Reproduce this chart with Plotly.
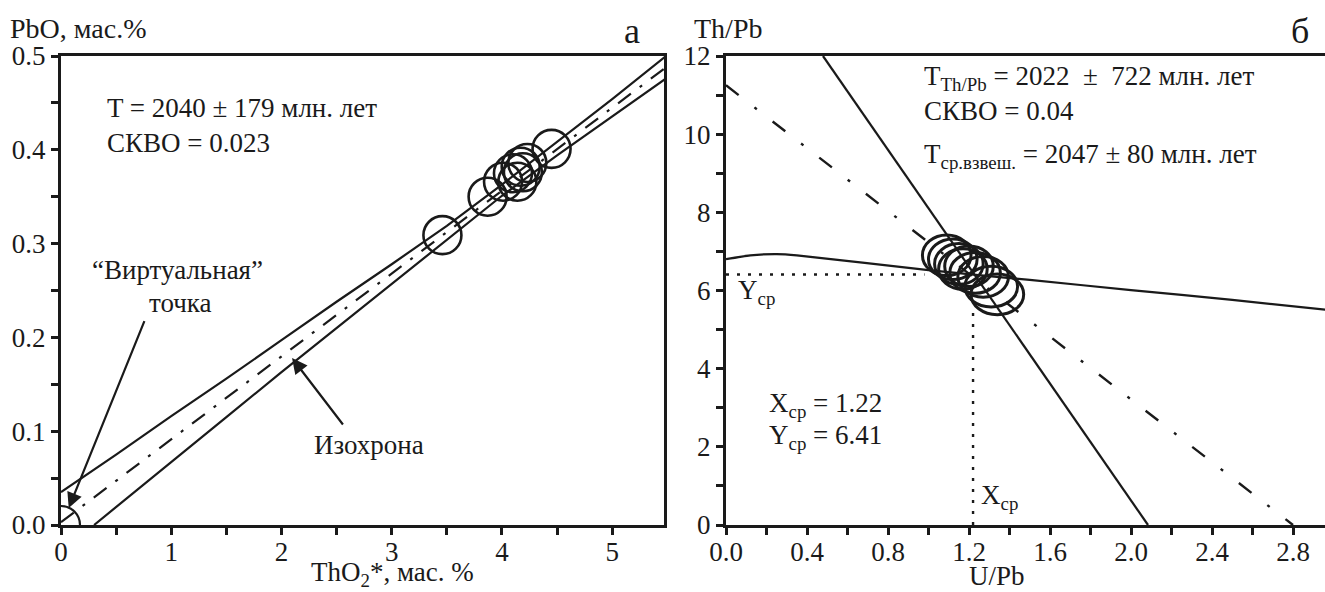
import plotly.graph_objects as go

FONT = "Liberation Serif, Times New Roman, DejaVu Serif, serif"
INK = "#1a1a1a"

# ---------------- panel a : PbO vs ThO2* ----------------
a_pt_x = [3.46, 3.87, 4.01, 4.10, 4.14, 4.17, 4.19, 4.23, 4.45]
a_pt_y = [0.309, 0.350, 0.366, 0.375, 0.366, 0.382, 0.376, 0.386, 0.401]

a_virtual_x = [0.0]
a_virtual_y = [0.0]

a_center_x = [0.0, 5.5]
a_center_y = [0.003, 0.489]

a_upper_x = [0.0, 0.5, 1.0, 1.5, 2.0, 2.5, 3.0, 3.5, 4.0, 4.5, 5.0, 5.5]
a_upper_y = [0.035, 0.075, 0.116, 0.156, 0.197, 0.238, 0.278, 0.319, 0.363, 0.408, 0.454, 0.501]

a_lower_x = [0.30, 0.5, 1.0, 1.5, 2.0, 2.5, 3.0, 3.5, 4.0, 4.5, 5.0, 5.5]
a_lower_y = [0.0, 0.019, 0.067, 0.115, 0.163, 0.210, 0.258, 0.305, 0.351, 0.394, 0.436, 0.477]

# ---------------- panel б : Th/Pb vs U/Pb ----------------
b_ell_x = [1.09, 1.12, 1.15, 1.17, 1.20, 1.23, 1.27, 1.31, 1.34]
b_ell_y = [6.90, 6.80, 6.68, 6.55, 6.62, 6.45, 6.35, 6.10, 5.90]
b_ell_rx = [0.12, 0.12, 0.12, 0.12, 0.12, 0.125, 0.125, 0.13, 0.13]
b_ell_ry = [0.52, 0.52, 0.52, 0.52, 0.52, 0.52, 0.52, 0.52, 0.52]

b_steep_x = [0.479, 2.084]
b_steep_y = [12.0, 0.0]

b_flat_x = [0.0, 0.12, 0.25, 0.35, 1.0, 1.5, 2.0, 2.5, 2.96]
b_flat_y = [6.80, 6.90, 6.93, 6.90, 6.52, 6.27, 6.01, 5.76, 5.51]

b_dd_x = [0.0, 2.80]
b_dd_y = [11.25, 0.0]

b_xcp = 1.22
b_ycp = 6.41
b_hdot_x = [0.0, 0.98]
b_vdot_y = [0.0, 5.45]

fig = go.Figure()

line_solid = dict(color=INK, width=2.2)

# panel a traces
fig.add_trace(go.Scatter(x=a_upper_x, y=a_upper_y, mode="lines", line=line_solid,
                         xaxis="x", yaxis="y", showlegend=False, hoverinfo="skip"))
fig.add_trace(go.Scatter(x=a_lower_x, y=a_lower_y, mode="lines", line=line_solid,
                         xaxis="x", yaxis="y", showlegend=False, hoverinfo="skip"))
fig.add_trace(go.Scatter(x=a_center_x, y=a_center_y, mode="lines",
                         line=dict(color=INK, width=2.2, dash="16px,11px,3px,11px"),
                         xaxis="x", yaxis="y", showlegend=False, hoverinfo="skip"))
fig.add_trace(go.Scatter(x=a_pt_x, y=a_pt_y, mode="markers",
                         marker=dict(symbol="circle-open", size=38, color=INK,
                                     line=dict(width=2.6, color=INK)),
                         xaxis="x", yaxis="y", showlegend=False, hoverinfo="skip"))
fig.add_trace(go.Scatter(x=a_virtual_x, y=a_virtual_y, mode="markers", cliponaxis=True,
                         marker=dict(symbol="circle-open", size=38, color=INK,
                                     line=dict(width=2.2, color=INK)),
                         xaxis="x", yaxis="y", showlegend=False, hoverinfo="skip"))

# panel б traces
fig.add_trace(go.Scatter(x=b_steep_x, y=b_steep_y, mode="lines", line=line_solid,
                         xaxis="x2", yaxis="y2", showlegend=False, hoverinfo="skip"))
fig.add_trace(go.Scatter(x=b_flat_x, y=b_flat_y, mode="lines",
                         line=dict(color=INK, width=2.2, shape="spline", smoothing=0.6),
                         xaxis="x2", yaxis="y2", showlegend=False, hoverinfo="skip"))
fig.add_trace(go.Scatter(x=b_dd_x, y=b_dd_y, mode="lines",
                         line=dict(color=INK, width=2.4, dash="16px,20px,3px,20px"),
                         xaxis="x2", yaxis="y2", showlegend=False, hoverinfo="skip"))
fig.add_trace(go.Scatter(x=b_hdot_x, y=[b_ycp, b_ycp], mode="lines",
                         line=dict(color=INK, width=2.4, dash="3px,8px"),
                         xaxis="x2", yaxis="y2", showlegend=False, hoverinfo="skip"))
fig.add_trace(go.Scatter(x=[b_xcp, b_xcp], y=b_vdot_y, mode="lines",
                         line=dict(color=INK, width=2.4, dash="3px,8px"),
                         xaxis="x2", yaxis="y2", showlegend=False, hoverinfo="skip"))

shapes = []
for cx, cy, rx, ry in zip(b_ell_x, b_ell_y, b_ell_rx, b_ell_ry):
    shapes.append(dict(type="circle", xref="x2", yref="y2",
                       x0=cx - rx, x1=cx + rx, y0=cy - ry, y1=cy + ry,
                       line=dict(color=INK, width=3)))

tick_font = dict(family=FONT, size=27, color=INK)
txt = dict(family=FONT, size=27, color=INK)
big = dict(family=FONT, size=27, color=INK)

axis_common = dict(showline=True, linecolor=INK, linewidth=3, mirror=True,
                   ticks="outside", ticklen=7, tickwidth=2.5, tickcolor=INK,
                   showgrid=False, zeroline=False, tickfont=tick_font, automargin=False)

annotations = [
    # panel a texts
    dict(x=0.006, y=0.952, xref="paper", yref="paper", text="PbO, мас.%", showarrow=False,
         xanchor="left", yanchor="middle", font=dict(family=FONT, size=28, color=INK)),
    dict(x=0.477, y=0.948, xref="paper", yref="paper", text="а", showarrow=False,
         xanchor="center", yanchor="middle", font=dict(family=FONT, size=36, color=INK)),
    dict(x=0.40, y=0.445, xref="x", yref="y", text="T = 2040 ± 179 млн. лет", showarrow=False,
         xanchor="left", yanchor="middle", font=txt),
    dict(x=0.40, y=0.407, xref="x", yref="y", text="СКВО = 0.023", showarrow=False,
         xanchor="left", yanchor="middle", font=txt),
    dict(x=1.06, y=0.272, xref="x", yref="y", text="“Виртуальная”", showarrow=False,
         xanchor="center", yanchor="middle", font=txt),
    dict(x=1.08, y=0.237, xref="x", yref="y", text="точка", showarrow=False,
         xanchor="center", yanchor="middle", font=txt),
    dict(x=2.79, y=0.085, xref="x", yref="y", text="Изохрона", showarrow=False,
         xanchor="center", yanchor="middle", font=txt),
    dict(x=0.07, y=0.018, xref="x", yref="y", ax=0.762, ay=0.219, axref="x", ayref="y",
         text="", showarrow=True, arrowhead=2, arrowsize=1.4, arrowwidth=2.2, arrowcolor=INK),
    dict(x=2.096, y=0.178, xref="x", yref="y", ax=2.568, ay=0.1055, axref="x", ayref="y",
         text="", showarrow=True, arrowhead=2, arrowsize=1.4, arrowwidth=2.2, arrowcolor=INK),
    dict(x=392 / 1325, y=0.0, xref="paper", yref="paper", text="ThO<sub>2</sub>*, мас. %",
         showarrow=False, xanchor="center", yanchor="bottom", borderpad=0, font=big),
    # panel б texts
    dict(x=692 / 1325, y=0.952, xref="paper", yref="paper", text="Th/Pb", showarrow=False,
         xanchor="left", yanchor="middle", font=dict(family=FONT, size=28, color=INK)),
    dict(x=1300 / 1325, y=0.948, xref="paper", yref="paper", text="б", showarrow=False,
         xanchor="center", yanchor="middle", font=dict(family=FONT, size=36, color=INK)),
    dict(x=997 / 1325, y=0.0, xref="paper", yref="paper", text="U/Pb",
         showarrow=False, xanchor="center", yanchor="bottom", borderpad=0, font=big),
    dict(x=0.97, y=11.44, xref="x2", yref="y2", text="T<sub>Th/Pb</sub> = 2022  ±  722 млн. лет",
         showarrow=False, xanchor="left", yanchor="middle", font=txt),
    dict(x=0.97, y=10.60, xref="x2", yref="y2", text="СКВО = 0.04",
         showarrow=False, xanchor="left", yanchor="middle", font=txt),
    dict(x=0.97, y=9.45, xref="x2", yref="y2", text="T<sub>ср.взвеш.</sub> = 2047 ± 80 млн. лет",
         showarrow=False, xanchor="left", yanchor="middle", font=txt),
    dict(x=0.20, y=3.06, xref="x2", yref="y2", text="X<sub>ср</sub> = 1.22",
         showarrow=False, xanchor="left", yanchor="middle", font=txt),
    dict(x=0.20, y=2.25, xref="x2", yref="y2", text="Y<sub>ср</sub> = 6.41",
         showarrow=False, xanchor="left", yanchor="middle", font=txt),
    dict(x=0.05, y=5.95, xref="x2", yref="y2", text="Y<sub>ср</sub>",
         showarrow=False, xanchor="left", yanchor="middle", font=txt),
    dict(x=1.25, y=0.71, xref="x2", yref="y2", text="X<sub>ср</sub>",
         showarrow=False, xanchor="left", yanchor="middle", font=txt),
]

xminor = dict(ticks="outside", ticklen=7, tickwidth=2.5, tickcolor=INK)

fig.update_layout(
    width=1325, height=592,
    margin=dict(l=0, r=0, t=0, b=0, autoexpand=False),
    paper_bgcolor="white", plot_bgcolor="white",
    font=dict(family=FONT, color=INK),
    shapes=shapes,
    annotations=annotations,
    xaxis=dict(domain=[61 / 1325, 664 / 1325], range=[0, 5.47], dtick=1, tick0=0,
               minor=dict(dtick=0.5, **xminor), ticklabelstandoff=-6,
               anchor="y", **axis_common),
    yaxis=dict(domain=[1 - 525 / 592, 1 - 56 / 592], range=[0, 0.5], dtick=0.1, tick0=0,
               tickformat=".1f", minor=dict(dtick=0.05, **xminor),
               anchor="x", **axis_common),
    xaxis2=dict(domain=[726 / 1325, 1.0], range=[0, 2.958], dtick=0.4, tick0=0, tickformat=".1f",
                minor=dict(dtick=0.2, **xminor), ticklabelstandoff=-6,
                anchor="y2", **axis_common),
    yaxis2=dict(domain=[1 - 525 / 592, 1 - 56 / 592], range=[0, 12], dtick=2, tick0=0,
                minor=dict(dtick=1, **xminor),
                anchor="x2", **axis_common),
)

fig.write_html("out.html")
